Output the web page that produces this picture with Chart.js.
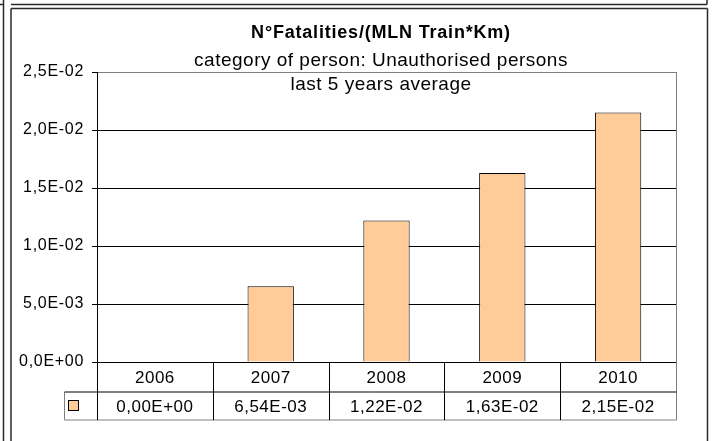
<!DOCTYPE html>
<html>
<head>
<meta charset="utf-8">
<script src="https://cdn.jsdelivr.net/npm/chart.js@4"></script>
<style>
  html, body { margin: 0; padding: 0; background: #fff; }
  #wrap { width: 712px; height: 441px; }
</style>
</head>
<body>
<div id="wrap"><canvas id="chart" width="712" height="441"></canvas></div>
<script>
// data
const categories = ["2006", "2007", "2008", "2009", "2010"];
const fatalityRates = [0, 6.54e-3, 1.22e-2, 1.63e-2, 2.15e-2];
const yTicks = [0, 0.005, 0.01, 0.015, 0.02, 0.025];

const titleLines = [
  "N°Fatalities/(MLN Train*Km)",
  "category of person: Unauthorised persons",
  "last 5 years average"
];

const FONT = "'Liberation Sans', Arial, sans-serif";
const barColor = "#FFCC99";

// 2,5E-02 style (comma decimal, two digit exponent)
function sci(v, d) {
  const parts = v.toExponential(d).split("e");
  const exp = parseInt(parts[1], 10);
  return parts[0].replace(".", ",") + "E" + (exp < 0 ? "-" : "+") + String(Math.abs(exp)).padStart(2, "0");
}

function line(ctx, x1, y1, x2, y2) {
  ctx.beginPath();
  ctx.moveTo(x1, y1);
  ctx.lineTo(x2, y2);
  ctx.stroke();
}

// outer frames of the worksheet chart object
const framePlugin = {
  id: "frame",
  beforeDraw(chart) {
    const ctx = chart.ctx;
    ctx.save();
    ctx.fillStyle = "#fff";
    ctx.fillRect(0, 0, chart.width, chart.height);
    ctx.strokeStyle = "#2a2a2a";
    ctx.lineWidth = 1.5;
    line(ctx, 3.5, 0, 3.5, 441);
    line(ctx, 0, 4.5, 3.5, 4.5);
    line(ctx, 11, 4.5, 707, 4.5);
    line(ctx, 707, 0, 707, 4.5);
    line(ctx, 11, 8.5, 707.5, 8.5);
    line(ctx, 11, 8.5, 11, 441);
    line(ctx, 707.5, 8.5, 707.5, 441);
    ctx.restore();
    // excel text renders a bit wider, applies to the axis labels too
    ctx.letterSpacing = "0.7px";
  }
};

// titles + data table under the plot
const tablePlugin = {
  id: "table",
  afterDraw(chart) {
    const ctx = chart.ctx;
    const xs = chart.scales.x;
    const area = chart.chartArea;
    const n = categories.length;
    const colW = (xs.right - xs.left) / n;
    const top = Math.round(area.bottom) + 0.5;
    const row1 = top + 29.5;
    const row2 = row1 + 28;
    const keyLeft = 64.5;

    ctx.save();
    ctx.letterSpacing = "0px";
    // plot right border
    ctx.strokeStyle = "#808080";
    ctx.lineWidth = 1;
    line(ctx, Math.round(xs.right) + 0.5, area.top, Math.round(xs.right) + 0.5, row2);
    line(ctx, keyLeft, row1, keyLeft, row2);
    line(ctx, keyLeft, row2, Math.round(xs.right) + 0.5, row2);

    ctx.strokeStyle = "#000";
    line(ctx, keyLeft, row1, Math.round(xs.right) + 0.5, row1);
    for (let i = 0; i < n; i++) {
      const x = Math.round(xs.left + i * colW) + 0.5;
      line(ctx, x, top, x, row2);
    }

    // legend key
    ctx.fillStyle = barColor;
    ctx.fillRect(68.5, 400.5, 10, 10);
    ctx.strokeRect(68.5, 400.5, 10, 10);

    ctx.fillStyle = "#000";
    ctx.font = "17px " + FONT;
    ctx.letterSpacing = "0.5px";
    ctx.textAlign = "center";
    ctx.textBaseline = "middle";
    categories.forEach((c, i) => {
      const cx = xs.getPixelForValue(i);
      ctx.fillText(c, cx, (top + row1) / 2 + 1);
      ctx.fillText(sci(fatalityRates[i], 2), cx, (row1 + row2) / 2 + 1);
    });

    // titles
    const tx = 381;
    ctx.textBaseline = "alphabetic";
    ctx.font = "bold 18px " + FONT;
    ctx.letterSpacing = "0.8px";
    ctx.fillText(titleLines[0], tx, 38);
    ctx.font = "19px " + FONT;
    ctx.letterSpacing = "0.5px";
    ctx.fillText(titleLines[1], tx, 66);
    ctx.fillText(titleLines[2], tx, 90);
    ctx.restore();
    ctx.letterSpacing = "0px";
  }
};

const chart = new Chart(document.getElementById("chart"), {
  type: "bar",
  data: {
    labels: categories,
    datasets: [{
      label: "Unauthorised persons",
      data: fatalityRates,
      backgroundColor: barColor,
      borderColor: "#000",
      borderWidth: 1,
      barPercentage: 0.4,
      categoryPercentage: 1.0
    }]
  },
  options: {
    responsive: false,
    animation: false,
    layout: { padding: { left: 11, right: 36, top: 72, bottom: 79 } },
    plugins: {
      legend: { display: false },
      title: { display: false },
      tooltip: { enabled: false }
    },
    scales: {
      x: {
        ticks: { display: false },
        grid: { display: false },
        border: { display: true, color: "#000", width: 1 },
        afterFit(scale) { scale.height = 0; }
      },
      y: {
        min: 0,
        max: 0.025,
        afterBuildTicks(scale) { scale.ticks = yTicks.map(v => ({ value: v })); },
        afterFit(scale) { scale.width = 86; },
        ticks: {
          color: "#000",
          padding: 8,
          font: { family: FONT, size: 16 },
          callback: v => sci(v, 1)
        },
        grid: {
          color: c => (c.tick && c.tick.value === 0.025 ? "#808080" : "#000"),
          lineWidth: 1,
          tickLength: 5,
          tickColor: "#000"
        },
        border: { display: true, color: "#000", width: 1 }
      }
    }
  },
  plugins: [framePlugin, tablePlugin]
});
</script>
</body>
</html>
